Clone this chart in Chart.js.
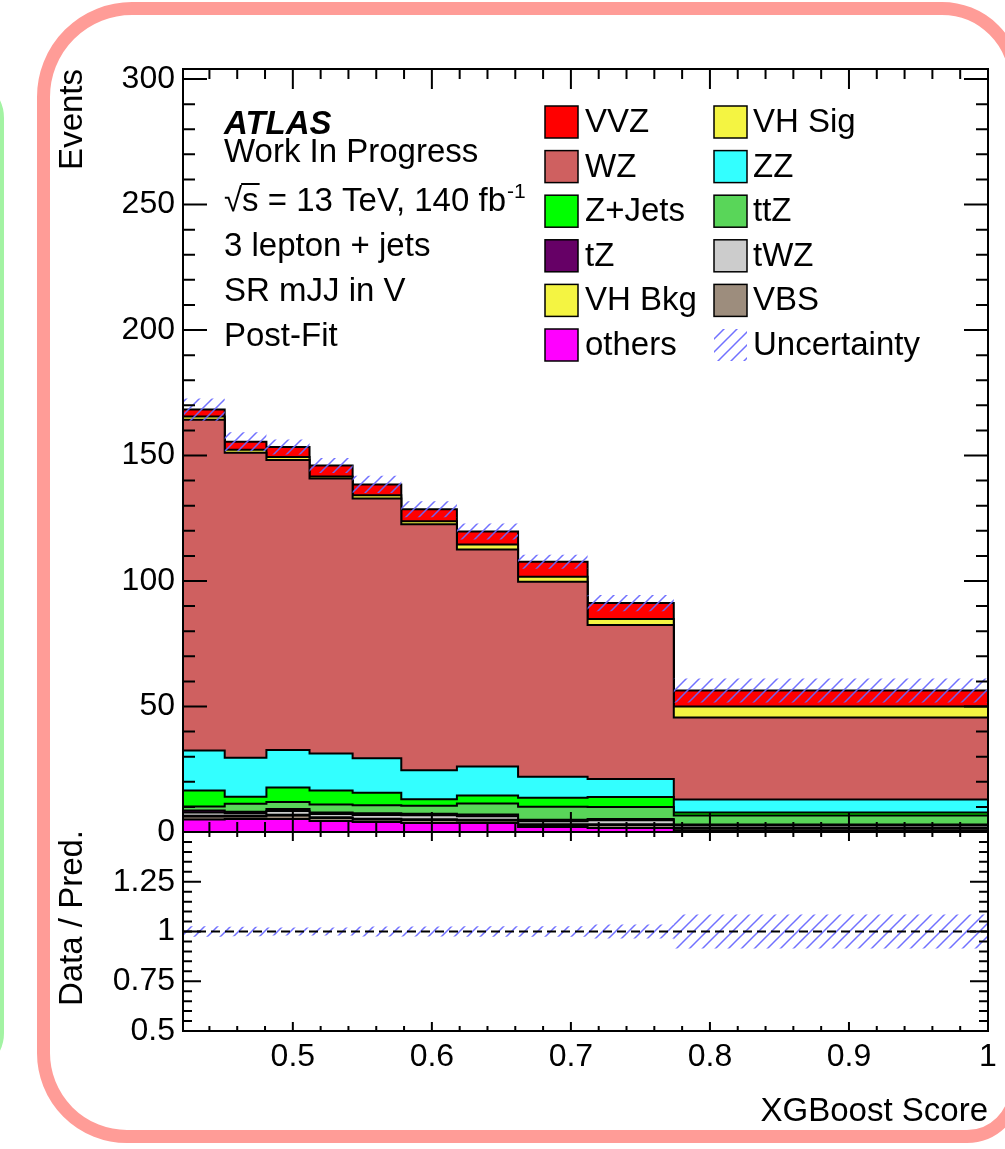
<!DOCTYPE html>
<html>
<head>
<meta charset="utf-8">
<script src="https://cdn.jsdelivr.net/npm/chart.js@4.4.1/dist/chart.umd.min.js"></script>
<style>
html,body{margin:0;padding:0;background:#ffffff;width:1005px;height:1149px;overflow:hidden;}
#wrap{position:relative;width:1005px;height:1149px;overflow:hidden;}
canvas{position:absolute;left:0;top:0;}
#pink{position:absolute;left:37px;top:2px;width:985px;height:1141px;border:13px solid #ff9c97;border-radius:95px 80px 55px 90px;box-sizing:border-box;}
#green{position:absolute;left:-300px;top:78px;width:304px;height:995px;border:12px solid #a3f3a3;border-radius:40px;box-sizing:border-box;}
</style>
</head>
<body>
<div id="wrap">
  <div id="green"></div>
  <div id="pink"></div>
  <canvas id="main" width="1005" height="1149"></canvas>
  <canvas id="ratio" width="1005" height="1149"></canvas>
</div>
<script>
// ---------------- data ----------------
const binEdges = [0.421, 0.451, 0.481, 0.512, 0.543, 0.578, 0.618, 0.662, 0.712, 0.774, 1.0];

const others = [5.0, 5.2, 5.2, 4.4, 4.0, 3.6, 3.6, 2.0, 1.6, 0.5];
const vbs    = [1.2, 1.0, 1.4, 1.2, 1.0, 1.2, 1.0, 0.8, 1.2, 0.8];
const vhBkg  = [0.3, 0.3, 0.3, 0.3, 0.3, 0.3, 0.3, 0.3, 0.3, 0.3];
const twz    = [1.3, 1.0, 1.5, 1.3, 1.5, 1.6, 1.4, 1.2, 1.6, 1.0];
const tz     = [0.8, 0.6, 0.8, 0.6, 0.7, 0.6, 0.7, 0.6, 0.5, 0.4];
const ttz    = [1.6, 3.2, 2.8, 3.2, 3.2, 3.2, 4.4, 5.2, 4.8, 3.6];
const zjets  = [6.3, 2.7, 5.7, 5.5, 4.9, 2.5, 3.1, 3.5, 3.9, 1.2];
const zz     = [16.0, 15.6, 15.0, 14.8, 13.8, 11.6, 11.6, 8.4, 7.2, 5.1];
const wz     = [131.8, 121.5, 115.5, 109.5, 103.5, 98.0, 86.5, 77.7, 61.4, 32.7];
const vhSig  = [1.2, 1.2, 1.2, 0.8, 1.3, 1.2, 1.9, 2.0, 2.4, 4.4];
const vvz    = [2.8, 3.2, 4.0, 4.4, 4.3, 4.8, 5.2, 6.0, 6.3, 6.4];
const uncertainty = [4.4, 3.8, 3.0, 3.0, 3.4, 3.2, 3.2, 2.8, 3.2, 4.8];

const xTickValues = [0.5, 0.6, 0.7, 0.8, 0.9, 1];
const yTickValues = [0, 50, 100, 150, 200, 250, 300];
const ratioTickValues = [0.5, 0.75, 1, 1.25];

const legendRows = [
  ['VVZ', 'VH Sig'], ['WZ', 'ZZ'], ['Z+Jets', 'ttZ'],
  ['tZ', 'tWZ'], ['VH Bkg', 'VBS'], ['others', 'Uncertainty']
];
const infoLines = ['ATLAS', 'Work In Progress', '\u221As = 13 TeV, 140 fb', '3 lepton + jets', 'SR mJJ in V', 'Post-Fit'];

// ---------------- styles ----------------
const FONT = '"Liberation Sans", Arial, Helvetica, sans-serif';
const stack = [ // bottom -> top
  {label: 'others', data: others, color: '#ff00ff'},
  {label: 'VBS', data: vbs, color: '#9d8d7d'},
  {label: 'VH Bkg', data: vhBkg, color: '#f4f442'},
  {label: 'tWZ', data: twz, color: '#cccccc'},
  {label: 'tZ', data: tz, color: '#660066'},
  {label: 'ttZ', data: ttz, color: '#59d659'},
  {label: 'Z+Jets', data: zjets, color: '#00ff00'},
  {label: 'ZZ', data: zz, color: '#33ffff'},
  {label: 'WZ', data: wz, color: '#cf6060'},
  {label: 'VH Sig', data: vhSig, color: '#f4f442'},
  {label: 'VVZ', data: vvz, color: '#ff0000'}
];

function makeHatch(ctx) {
  const s = 13;
  const c = document.createElement('canvas');
  c.width = s; c.height = s;
  const g = c.getContext('2d');
  g.strokeStyle = 'rgba(105,105,255,0.95)';
  g.lineWidth = 1.5;
  g.beginPath();
  g.moveTo(0, s); g.lineTo(s, 0);
  g.moveTo(-s, s); g.lineTo(s, -s);
  g.moveTo(0, 2 * s); g.lineTo(2 * s, 0);
  g.stroke();
  return ctx.createPattern(c, 'repeat');
}

function stepPoints(vals) {
  const pts = [];
  vals.forEach((v, i) => {
    pts.push({x: binEdges[i], y: v});
    pts.push({x: binEdges[i + 1], y: v});
  });
  return pts;
}

// cumulative stack
const cum = [];
let running = binEdges.slice(1).map(() => 0);
stack.forEach(layer => {
  running = running.map((r, i) => r + layer.data[i]);
  cum.push(running.slice());
});
const total = cum[cum.length - 1];

function drawFrameTicks(chart, o) {
  const {ctx, chartArea: a} = chart;
  const xs = chart.scales.x, ys = chart.scales.y;
  ctx.save();
  ctx.strokeStyle = '#000';
  ctx.lineWidth = 2;
  ctx.beginPath();
  const y0 = Math.ceil(ys.min / o.yMinor - 1e-6) * o.yMinor;
  for (let k = 0; ; k++) {
    const v = y0 + k * o.yMinor;
    if (v > ys.max + 1e-9) break;
    const p = ys.getPixelForValue(v);
    const r = v / o.yMajor;
    const major = Math.abs(r - Math.round(r)) < 1e-6;
    const len = major ? o.yMajorLen : o.yMinorLen;
    ctx.moveTo(a.left, p); ctx.lineTo(a.left + len, p);
    ctx.moveTo(a.right, p); ctx.lineTo(a.right - len, p);
  }
  const x0 = Math.ceil(xs.min / o.xMinor - 1e-6) * o.xMinor;
  for (let k = 0; ; k++) {
    const v = x0 + k * o.xMinor;
    if (v > xs.max + 1e-9) break;
    const p = xs.getPixelForValue(v);
    const r = v / o.xMajor;
    const major = Math.abs(r - Math.round(r)) < 1e-6;
    const len = major ? o.xMajorLen : o.xMinorLen;
    ctx.moveTo(p, a.bottom); ctx.lineTo(p, a.bottom - len);
    ctx.moveTo(p, a.top); ctx.lineTo(p, a.top + len);
  }
  ctx.stroke();
  ctx.strokeRect(a.left, a.top, a.right - a.left, a.bottom - a.top);
  ctx.restore();
}

function fixY(width) {
  return s => { s.width = width; s.paddingTop = 0; s.paddingBottom = 0; s.paddingLeft = 0; s.paddingRight = 0; };
}

// ---------------- main panel ----------------
const mainCtx = document.getElementById('main').getContext('2d');
const hatchMain = makeHatch(mainCtx);

const mainDatasets = stack.map((layer, i) => ({
  label: layer.label,
  data: stepPoints(cum[i]),
  borderColor: '#000000',
  borderWidth: 2,
  backgroundColor: layer.color,
  fill: i === 0 ? 'origin' : '-1',
  pointRadius: 0,
  tension: 0
}));
mainDatasets.push({
  label: 'uncLow', data: stepPoints(total.map((t, i) => t - uncertainty[i])),
  borderWidth: 0, borderColor: 'rgba(0,0,0,0)', fill: false, pointRadius: 0, order: -1
});
mainDatasets.push({
  label: 'Uncertainty', data: stepPoints(total.map((t, i) => t + uncertainty[i])),
  borderWidth: 0, borderColor: 'rgba(0,0,0,0)', backgroundColor: hatchMain, fill: '-1', pointRadius: 0, order: -1
});

const TXT = 33;
const mainDecor = {
  id: 'mainDecor',
  afterDatasetsDraw(chart) {
    drawFrameTicks(chart, {yMinor: 10, yMajor: 50, yMajorLen: 24, yMinorLen: 12,
                           xMinor: 0.02, xMajor: 0.1, xMajorLen: 20, xMinorLen: 10});
  },
  afterDraw(chart) {
    const ctx = chart.ctx;
    ctx.save();
    ctx.fillStyle = '#000';
    ctx.textBaseline = 'alphabetic';
    ctx.textAlign = 'left';
    // info text
    const tx = 224;
    const base = [134, 162, 211, 256, 301, 346];
    ctx.font = 'italic bold ' + TXT + 'px ' + FONT;
    ctx.fillText(infoLines[0], tx, base[0]);
    ctx.font = TXT + 'px ' + FONT;
    ctx.fillText(infoLines[1], tx, base[1]);
    ctx.fillText(infoLines[2], tx, base[2]);
    // sqrt overline
    const wRoot = ctx.measureText('\u221A').width;
    const wS = ctx.measureText('s').width;
    ctx.fillRect(tx + wRoot - 1, base[2] - 28, wS + 2, 2);
    const w2 = ctx.measureText(infoLines[2]).width;
    ctx.font = '21px ' + FONT;
    ctx.fillText('-1', tx + w2 + 1, base[2] - 13);
    ctx.font = TXT + 'px ' + FONT;
    for (let i = 3; i < infoLines.length; i++) ctx.fillText(infoLines[i], tx, base[i]);

    // legend
    const colBox = [545, 714], colText = [585, 753];
    const boxW = 33, boxH = 32;
    legendRows.forEach((row, r) => {
      const yb = 132 + r * 44.6;
      row.forEach((name, c) => {
        const bx = colBox[c], by = yb - 26;
        if (name === 'Uncertainty') {
          ctx.fillStyle = hatchMain;
          ctx.fillRect(bx, by, boxW, boxH);
        } else {
          const layer = stack.find(l => l.label === name);
          ctx.fillStyle = layer.color;
          ctx.fillRect(bx, by, boxW, boxH);
          ctx.strokeStyle = '#000';
          ctx.lineWidth = 1.5;
          ctx.strokeRect(bx, by, boxW, boxH);
        }
        ctx.fillStyle = '#000';
        ctx.fillText(name, colText[c], yb);
      });
    });

    // y title
    ctx.save();
    ctx.translate(82, 69);
    ctx.rotate(-Math.PI / 2);
    ctx.textAlign = 'right';
    ctx.fillText('Events', 0, 0);
    ctx.restore();
    ctx.restore();
  }
};

new Chart(mainCtx, {
  type: 'line',
  data: {datasets: mainDatasets},
  options: {
    responsive: false, animation: false, events: [],
    layout: {padding: {left: 0, right: 17, top: 69, bottom: 317}},
    plugins: {legend: {display: false}, tooltip: {enabled: false}, title: {display: false}},
    elements: {point: {radius: 0}, line: {tension: 0}},
    scales: {
      x: {type: 'linear', min: binEdges[0], max: binEdges[binEdges.length - 1], display: false},
      y: {
        type: 'linear', min: 0, max: 304, position: 'left',
        grid: {display: false, drawTicks: false}, border: {display: false},
        ticks: {font: {family: FONT, size: 32}, color: '#000', padding: 8, autoSkip: false,
                callback: v => String(v)},
        afterBuildTicks: s => { s.ticks = yTickValues.map(v => ({value: v})); },
        afterFit: fixY(183)
      }
    }
  },
  plugins: [mainDecor]
});

// ---------------- ratio panel ----------------
const ratioCtx = document.getElementById('ratio').getContext('2d');
const hatchRatio = makeHatch(ratioCtx);
const relUnc = total.map((t, i) => uncertainty[i] / t);

const ratioDatasets = [
  {label: 'ratioLow', data: stepPoints(relUnc.map(u => 1 - u)), borderWidth: 0, borderColor: 'rgba(0,0,0,0)', fill: false, pointRadius: 0},
  {label: 'ratioHigh', data: stepPoints(relUnc.map(u => 1 + u)), borderWidth: 0, borderColor: 'rgba(0,0,0,0)', backgroundColor: hatchRatio, fill: '-1', pointRadius: 0},
  {label: 'unity', data: [{x: binEdges[0], y: 1}, {x: binEdges[binEdges.length - 1], y: 1}],
   borderColor: '#000', borderWidth: 2, borderDash: [9, 5], fill: false, pointRadius: 0, order: -1}
];

const ratioDecor = {
  id: 'ratioDecor',
  afterDatasetsDraw(chart) {
    drawFrameTicks(chart, {yMinor: 0.05, yMajor: 0.25, yMajorLen: 18, yMinorLen: 9,
                           xMinor: 0.02, xMajor: 0.1, xMajorLen: 9, xMinorLen: 5});
  },
  afterDraw(chart) {
    const ctx = chart.ctx;
    ctx.save();
    ctx.fillStyle = '#000';
    ctx.font = TXT + 'px ' + FONT;
    ctx.textBaseline = 'alphabetic';
    ctx.save();
    ctx.translate(82, 830);
    ctx.rotate(-Math.PI / 2);
    ctx.textAlign = 'right';
    ctx.fillText('Data / Pred.', 0, 0);
    ctx.restore();
    ctx.textAlign = 'right';
    ctx.fillText('XGBoost Score', 988, 1121);
    ctx.restore();
  }
};

new Chart(ratioCtx, {
  type: 'line',
  data: {datasets: ratioDatasets},
  options: {
    responsive: false, animation: false, events: [],
    layout: {padding: {left: 0, right: 17, top: 832, bottom: 58}},
    plugins: {legend: {display: false}, tooltip: {enabled: false}, title: {display: false}},
    elements: {point: {radius: 0}, line: {tension: 0}},
    scales: {
      x: {
        type: 'linear', min: binEdges[0], max: binEdges[binEdges.length - 1], position: 'bottom',
        grid: {display: false, drawTicks: false}, border: {display: false},
        ticks: {font: {family: FONT, size: 32}, color: '#000', padding: 7, autoSkip: false, maxRotation: 0,
                callback: v => String(v)},
        afterBuildTicks: s => { s.ticks = xTickValues.map(v => ({value: v})); },
        afterFit: s => { s.height = 60; s.paddingLeft = 0; s.paddingRight = 0; s.paddingTop = 0; s.paddingBottom = 0; }
      },
      y: {
        type: 'linear', min: 0.5, max: 1.5, position: 'left',
        grid: {display: false, drawTicks: false}, border: {display: false},
        ticks: {font: {family: FONT, size: 32}, color: '#000', padding: 8, autoSkip: false,
                callback: v => String(v)},
        afterBuildTicks: s => { s.ticks = ratioTickValues.map(v => ({value: v})); },
        afterFit: fixY(183)
      }
    }
  },
  plugins: [ratioDecor]
});
</script>
</body>
</html>
